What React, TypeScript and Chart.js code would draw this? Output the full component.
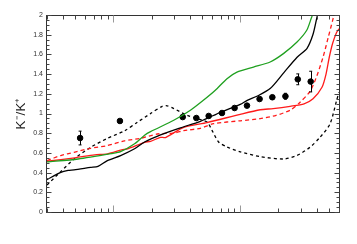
import React, { useEffect, useRef } from "react";
import { Chart, registerables } from "chart.js";

Chart.register(...registerables);

// ---- data (x on log scale, y = K-/K+) ----
const dataX = [0.547, 1.127, 3.52, 4.51, 5.64, 7.18, 9.02, 11.3, 14.2, 17.9, 22.7, 28.4, 35.9];
const dataY = [0.751, 0.924, 0.964, 0.954, 0.975, 1.005, 1.056, 1.08, 1.147, 1.165, 1.175, 1.347, 1.324];
const dataErr = [0.07, 0.012, 0.01, 0.01, 0.01, 0.01, 0.01, 0.01, 0.015, 0.015, 0.03, 0.055, 0.105];

const redSolidX = [0.3, 0.497, 0.713, 0.902, 1.162, 1.295, 1.762, 1.963, 2.353, 2.576, 3.586, 5.475, 10, 14.36, 18.16, 24.71, 31.83, 37.46, 44.07, 47.38, 50.29, 53.48, 57.5, 60];
const redSolidY = [0.515, 0.55, 0.581, 0.591, 0.631, 0.642, 0.708, 0.718, 0.758, 0.756, 0.86, 0.908, 0.992, 1.038, 1.05, 1.073, 1.098, 1.149, 1.266, 1.398, 1.571, 1.713, 1.824, 1.86];

const redDashX = [0.3, 0.385, 0.49, 0.663, 0.897, 1.227, 1.639, 2.217, 2.992, 3.586, 4.851, 6.17, 10, 14.36, 19.18, 24.71, 29.6, 35.47, 40.05, 45.13, 49.38, 53.48, 54.76];
const redDashY = [0.522, 0.573, 0.606, 0.647, 0.674, 0.723, 0.748, 0.792, 0.802, 0.826, 0.85, 0.897, 0.926, 0.948, 0.982, 1.033, 1.114, 1.225, 1.378, 1.581, 1.774, 1.946, 2.0];

const greenX = [0.3, 0.527, 0.964, 1.141, 1.47, 1.762, 1.963, 2.992, 4.048, 5.12, 6.36, 7.862, 9.421, 12.72, 17.21, 21.88, 27.89, 33.42, 36.58, 37.2];
const greenY = [0.508, 0.538, 0.593, 0.613, 0.692, 0.779, 0.816, 0.931, 1.033, 1.134, 1.236, 1.354, 1.421, 1.472, 1.523, 1.608, 1.723, 1.845, 1.98, 2.0];

const blackSolidX = [0.3, 0.385, 0.44, 0.49, 0.663, 0.757, 0.897, 1.141, 1.47, 1.762, 2.353, 3.379, 4.851, 6.965, 10, 11.35, 13.53, 17.21, 22.16, 28.04, 33.6, 37.46, 40.05, 40.63];
const blackSolidY = [0.329, 0.403, 0.423, 0.428, 0.454, 0.464, 0.522, 0.573, 0.642, 0.711, 0.784, 0.855, 0.921, 1.012, 1.093, 1.134, 1.175, 1.253, 1.418, 1.571, 1.662, 1.804, 1.966, 2.0];

const blackDashX = [0.3, 0.385, 0.49, 0.663, 0.897, 1.227, 1.544, 1.963, 2.427, 2.656, 2.992, 3.814, 4.57, 5.475, 5.994, 6.753, 7.862, 10, 14.36, 21.88, 27.89, 35.47, 42.5, 50.93, 57.5, 60];
const blackDashY = [0.274, 0.41, 0.538, 0.657, 0.748, 0.824, 0.911, 0.999, 1.073, 1.078, 1.05, 0.982, 0.948, 0.914, 0.829, 0.711, 0.66, 0.611, 0.562, 0.538, 0.573, 0.657, 0.758, 0.893, 1.134, 1.215];

const yTickValues = [0, 0.2, 0.4, 0.6, 0.8, 1, 1.2, 1.4, 1.6, 1.8, 2];
const xMajorTicks = [1, 10];

const pts = (xs: number[], ys: number[]) => xs.map((x, i) => ({ x, y: ys[i] }));

const framePlugin = {
  id: "frameTicks",
  afterDatasetsDraw(chart: any) {
    const { ctx, chartArea: a, scales } = chart;
    const xs = scales.x;
    const ys = scales.y;
    ctx.save();
    // error bars
    ctx.strokeStyle = "#000";
    ctx.lineWidth = 1;
    dataX.forEach((x, i) => {
      const px = xs.getPixelForValue(x);
      const y1 = ys.getPixelForValue(dataY[i] - dataErr[i]);
      const y2 = ys.getPixelForValue(dataY[i] + dataErr[i]);
      if (Math.abs(y1 - y2) < 5) return;
      ctx.beginPath();
      ctx.moveTo(Math.round(px) + 0.5, y1);
      ctx.lineTo(Math.round(px) + 0.5, y2);
      ctx.moveTo(px - 1.5, y1);
      ctx.lineTo(px + 1.5, y1);
      ctx.moveTo(px - 1.5, y2);
      ctx.lineTo(px + 1.5, y2);
      ctx.stroke();
    });
    // frame
    ctx.strokeStyle = "#333";
    ctx.lineWidth = 1;
    const L = Math.round(a.left) - 0.5;
    const R = Math.round(a.right) + 0.5;
    const T = Math.round(a.top) + 0.5;
    const B = Math.round(a.bottom) + 0.5;
    ctx.strokeRect(L, T, R - L, B - T);
    // y ticks (inward, both sides)
    for (let k = 0; k <= 40; k++) {
      const v = k * 0.05;
      const py = Math.round(ys.getPixelForValue(v)) + 0.5;
      const major = k % 4 === 0;
      const len = major ? 5 : 3;
      ctx.strokeStyle = "#444";
      ctx.beginPath();
      ctx.moveTo(L, py);
      ctx.lineTo(L + len, py);
      ctx.moveTo(R, py);
      ctx.lineTo(R - len, py);
      ctx.stroke();
    }
    // x ticks (log)
    for (let e = -1; e <= 1; e++) {
      for (let m = 1; m <= 9; m++) {
        const v = m * Math.pow(10, e);
        if (v < 0.3 || v > 60) continue;
        const px = Math.round(xs.getPixelForValue(v)) + 0.5;
        const major = xMajorTicks.includes(Math.round(v * 1000) / 1000);
        const len = major ? 7 : 4;
        ctx.strokeStyle = major ? "#999" : "#444";
        ctx.beginPath();
        ctx.moveTo(px, B);
        ctx.lineTo(px, B - len);
        ctx.moveTo(px, T);
        ctx.lineTo(px, T + len);
        ctx.stroke();
      }
    }
    ctx.restore();
  },
};

export default function App() {
  const ref = useRef<HTMLCanvasElement | null>(null);
  useEffect(() => {
    if (!ref.current) return;
    const lineDs = (xs: number[], ys: number[], color: string, dash: number[]) => ({
      type: "line" as const,
      data: pts(xs, ys),
      borderColor: color,
      borderWidth: 1.3,
      borderDash: dash,
      pointRadius: 0,
      tension: 0.25,
      fill: false,
    });
    const chart = new Chart(ref.current, {
      type: "line",
      data: {
        datasets: [
          lineDs(greenX, greenY, "#1fa01f", []),
          lineDs(blackSolidX, blackSolidY, "#000000", []),
          lineDs(redSolidX, redSolidY, "#ff1a1a", []),
          lineDs(redDashX, redDashY, "#ff1a1a", [4, 3]),
          lineDs(blackDashX, blackDashY, "#000000", [3, 3]),
          {
            type: "scatter" as const,
            data: pts(dataX, dataY),
            backgroundColor: "#000",
            borderColor: "#000",
            pointRadius: 2.8,
            showLine: false,
          } as any,
        ],
      },
      options: {
        animation: false,
        responsive: false,
        maintainAspectRatio: false,
        events: [],
        layout: { padding: { left: 0, top: 15, right: 18, bottom: 32 } },
        plugins: { legend: { display: false }, tooltip: { enabled: false } },
        scales: {
          x: { type: "logarithmic", min: 0.3, max: 60, display: false },
          y: {
            type: "linear",
            min: 0,
            max: 2,
            afterFit: (s: any) => {
              s.width = 47;
            },
            afterBuildTicks: (s: any) => {
              s.ticks = yTickValues.map((v) => ({ value: v }));
            },
            grid: { display: false, drawTicks: false },
            border: { display: false },
            ticks: {
              padding: 4,
              color: "#333",
              font: { family: "'Liberation Sans', Arial, sans-serif", size: 7 },
              callback: (v: any) => String(Math.round(Number(v) * 10) / 10),
            },
            title: {
              display: true,
              text: "K⁻/K⁺",
              color: "#222",
              font: { family: "'Liberation Sans', Arial, sans-serif", size: 13.5 },
              padding: { top: 13, bottom: 0 },
            },
          },
        },
      },
      plugins: [framePlugin],
    } as any);
    return () => chart.destroy();
  }, []);
  return (
    <div style={{ position: "fixed", left: 0, top: 0, width: 357, height: 244, background: "#fff" }}>
      <canvas ref={ref} width={357} height={244} />
    </div>
  );
}
